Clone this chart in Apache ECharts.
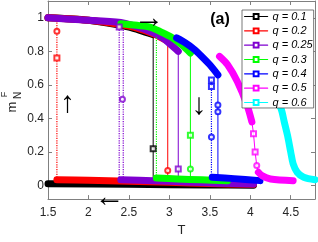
<!DOCTYPE html>
<html><head><meta charset="utf-8">
<script src="https://cdn.jsdelivr.net/npm/echarts@6/dist/echarts.min.js"></script>
<style>html,body{margin:0;padding:0;background:#fff}#c{width:318px;height:242px}</style>
</head><body><div id="c"></div>
<script>
const xTicks = [1.5, 2, 2.5, 3, 3.5, 4, 4.5];
const yTicks = [0, 0.2, 0.4, 0.6, 0.8, 1];
const qNames = ['q = 0.1', 'q = 0.2', 'q = 0.25', 'q = 0.3', 'q = 0.4', 'q = 0.5', 'q = 0.6'];
const qColors = ['#000000', '#ff0000', '#7f00d0', '#00ff00', '#0000ff', '#ff00ff', '#00ffff'];

// q = 0.1
const q01Upper = [[1.5,1.0],[2.0,0.985],[2.5,0.945],[2.7,0.915],[2.8,0.9]];
const q01Lower = [[1.5,0.012],[2.5,0.008],[3.5,0.004],[4.04,0.003]];
const q01Drop = [[2.8,0.9],[2.8,0.02]];
const q01Squares = [[2.8,0.22]];
// q = 0.2
const q02Upper = [[1.5,1.0],[2.0,0.985],[2.5,0.95],[2.8,0.905],[2.98,0.86]];
const q02Lower = [[1.61,0.035],[2.0,0.032],[2.5,0.027],[3.0,0.02],[3.5,0.013],[4.04,0.008]];
const q02Drop = [[2.98,0.86],[2.98,0.03]];
const q02Rise = [[1.61,0.035],[1.61,0.99]];
const q02Circles = [[2.98,0.09],[1.61,0.92]];
const q02Squares = [[1.61,0.76]];
// q = 0.25
const q025Upper = [[1.5,1.0],[1.9,0.988],[2.4,0.972],[2.7,0.93],[2.9,0.885],[3.03,0.835],[3.11,0.8]];
const q025Lower = [[2.4,0.035],[2.8,0.03],[3.2,0.022],[3.6,0.015],[4.04,0.01]];
const q025Drop = [[3.11,0.8],[3.11,0.03]];
const q025RiseA = [[2.38,0.035],[2.38,0.945]];
const q025RiseB = [[2.43,0.035],[2.43,0.93]];
const q025Squares = [[3.11,0.1],[2.38,0.945]];
const q025Circles = [[2.42,0.515]];
// q = 0.3
const q03Upper = [[2.4,0.965],[2.6,0.955],[2.76,0.945],[2.9,0.915],[3.04,0.88],[3.15,0.84],[3.26,0.79]];
const q03Lower = [[2.84,0.045],[3.1,0.04],[3.4,0.035],[3.72,0.03]];
const q03Drop = [[3.26,0.79],[3.26,0.04]];
const q03Rise = [[2.84,0.045],[2.84,0.89]];
const q03Squares = [[3.26,0.3]];
const q03Circles = [[3.26,0.1]];
// q = 0.4
const q04Upper = [[3.09,0.88],[3.2,0.85],[3.3,0.815],[3.4,0.77],[3.5,0.72],[3.6,0.66]];
const q04Lower = [[3.53,0.05],[3.8,0.042],[4.12,0.03]];
const q04Drop = [[3.6,0.66],[3.6,0.05]];
const q04Rise = [[3.52,0.05],[3.52,0.64]];
const q04Squares = [[3.52,0.63],[3.52,0.59]];
const q04Circles = [[3.6,0.48],[3.6,0.44],[3.52,0.29]];
// q = 0.5
const q05Upper = [[3.62,0.77],[3.72,0.72],[3.84,0.62],[3.96,0.48],[4.02,0.38]];
const q05Steep = [[4.02,0.38],[4.04,0.31],[4.06,0.2],[4.08,0.12],[4.1,0.085]];
const q05Lower = [[4.1,0.08],[4.15,0.058],[4.25,0.04],[4.53,0.03]];
const q05Squares = [[4.04,0.31],[4.06,0.2]];
const q05Circles = [[4.08,0.12]];
// q = 0.6
const q06Curve = [[4.0,0.72],[4.1,0.66],[4.22,0.565],[4.32,0.51],[4.38,0.46],[4.42,0.38],[4.46,0.3],[4.5,0.2],[4.53,0.13],[4.58,0.08],[4.66,0.05],[4.8,0.035]];

const BAND = 7;
function band(i, data, first) {
  return { type: 'line', name: qNames[i], data: data, smooth: 0.3, symbol: first ? 'emptyRect' : 'none', showSymbol: false,
    lineStyle: { color: qColors[i], width: BAND, cap: 'round', join: 'round' }, itemStyle: { color: qColors[i] } };
}
function vline(i, data, dotted) {
  return { type: 'line', name: qNames[i], data: data, symbol: 'none',
    lineStyle: { color: qColors[i], width: dotted ? 1.2 : 1, type: dotted ? 'dotted' : 'solid' }, itemStyle: { color: qColors[i] } };
}
function marks(i, data, shape) {
  return { type: 'scatter', name: qNames[i], data: data, symbol: shape, symbolSize: 5,
    itemStyle: { color: qColors[i], borderWidth: 1 }, z: 3 };
}

const series = [
  band(0, q01Upper, true), band(0, q01Lower), vline(0, q01Drop), marks(0, q01Squares, 'emptyRect'),
  band(1, q02Upper, true), band(1, q02Lower), vline(1, q02Drop), vline(1, q02Rise, true), marks(1, q02Circles, 'emptyCircle'), marks(1, q02Squares, 'emptyRect'),
  band(2, q025Upper, true), band(2, q025Lower), vline(2, q025Drop), vline(2, q025RiseA, true), vline(2, q025RiseB, true), marks(2, q025Squares, 'emptyRect'), marks(2, q025Circles, 'emptyCircle'),
  band(3, q03Upper, true), band(3, q03Lower), vline(3, q03Drop), vline(3, q03Rise, true), marks(3, q03Squares, 'emptyRect'), marks(3, q03Circles, 'emptyCircle'),
  band(4, q04Upper, true), band(4, q04Lower), vline(4, q04Drop), vline(4, q04Rise, true), marks(4, q04Squares, 'emptyRect'), marks(4, q04Circles, 'emptyCircle'),
  band(5, q05Upper, true), vline(5, q05Steep), band(5, q05Lower), marks(5, q05Squares, 'emptyRect'), marks(5, q05Circles, 'emptyCircle'),
  band(6, q06Curve, true)
];

const axisCol = '#808080';
const txtCol = '#262626';
const font = 'Liberation Sans';
function xAx(pos, show) {
  return { type: 'value', position: pos, min: 1.5, max: 4.8,
    axisLine: { show: true, onZero: false, lineStyle: { color: axisCol, width: 1 } },
    axisTick: { show: true, inside: true, length: 4, customValues: xTicks, lineStyle: { color: axisCol } },
    axisLabel: { show: show, customValues: xTicks, fontSize: 12, color: txtCol, fontFamily: font, margin: 8 },
    splitLine: { show: false },
    name: show ? 'T' : '', nameLocation: 'middle', nameGap: 24,
    nameTextStyle: { fontSize: 13, color: txtCol, fontFamily: font } };
}
function yAx(pos, show) {
  return { type: 'value', position: pos, min: -0.08, max: 1.1,
    axisLine: { show: true, onZero: false, lineStyle: { color: axisCol, width: 1 } },
    axisTick: { show: true, inside: true, length: 4, customValues: yTicks, lineStyle: { color: axisCol } },
    axisLabel: { show: show, customValues: yTicks, fontSize: 12, color: txtCol, fontFamily: font, margin: 4 },
    splitLine: { show: false } };
}

function txt(text, x, y, size, extra) {
  return Object.assign({ type: 'text', x: x, y: y, z: 10,
    style: { text: text, font: size + 'px "Liberation Sans"', fill: '#000', align: 'center', verticalAlign: 'middle' } }, extra || {});
}

const chart = echarts.init(document.getElementById('c'), null, { renderer: 'canvas' });
chart.setOption({
  animation: false,
  backgroundColor: '#fff',
  grid: { left: 48, right: 3, top: 1, bottom: 40, containLabel: false },
  xAxis: [xAx('bottom', true), xAx('top', false)],
  yAxis: [yAx('left', true), yAx('right', false)],
  legend: {
    orient: 'vertical', left: 242, top: 10, data: qNames,
    backgroundColor: '#fff', borderColor: '#555', borderWidth: 0.8, borderRadius: 0,
    padding: [1, 1, 0, 2], itemWidth: 23, itemHeight: 6, itemGap: 3.33,
    lineStyle: { width: 1.2 },
    textStyle: { fontSize: 11, fontStyle: 'italic', color: '#000', fontFamily: font, lineHeight: 9 }
  },
  graphic: [
    { type: 'text', x: 220, y: 19.5, z: 10, style: { text: '(a)', font: 'bold 16px "Liberation Sans"', fill: '#000', align: 'center', verticalAlign: 'middle' } },
    txt('→', 149, 19, 30),
    txt('↑', 67.5, 103.5, 30),
    txt('↓', 199, 106, 30),
    txt('←', 109.5, 198, 30),
    { type: 'text', x: 12.5, y: 107, rotation: Math.PI / 2, style: { text: 'm', font: '13px "Liberation Sans"', fill: txtCol, align: 'center', verticalAlign: 'middle' } },
    { type: 'text', x: 4.5, y: 94.5, rotation: Math.PI / 2, style: { text: 'F', font: '9px "Liberation Sans"', fill: txtCol, align: 'center', verticalAlign: 'middle' } },
    { type: 'text', x: 18, y: 95.5, rotation: Math.PI / 2, style: { text: 'N', font: '10px "Liberation Sans"', fill: txtCol, align: 'center', verticalAlign: 'middle' } }
  ],
  series: series
});
</script></body></html>
